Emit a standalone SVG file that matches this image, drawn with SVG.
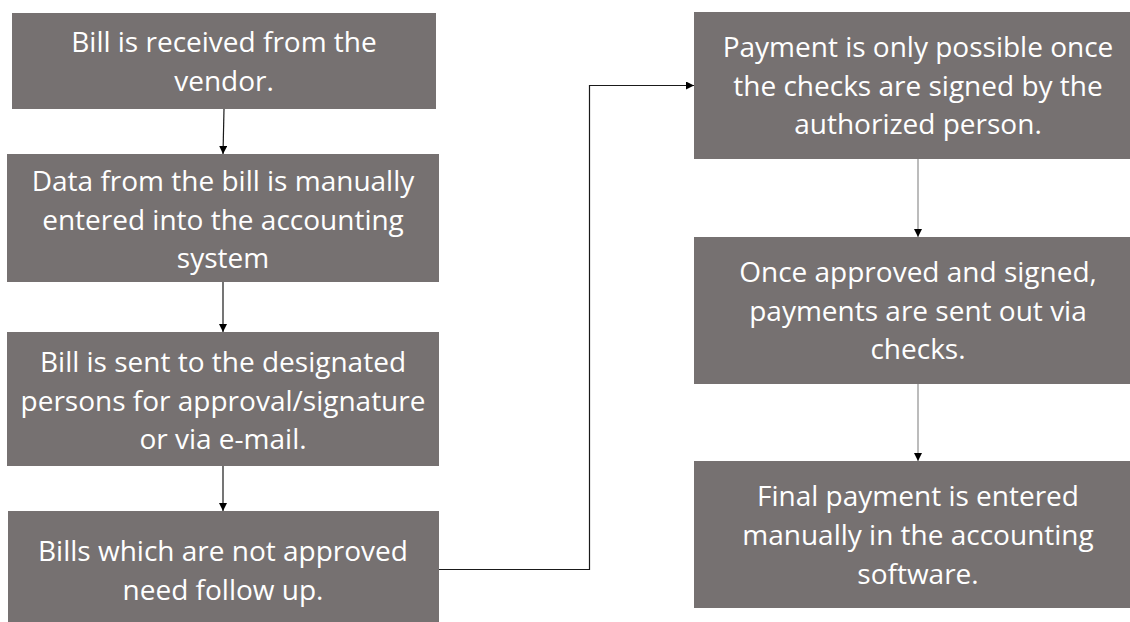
<svg xmlns="http://www.w3.org/2000/svg" width="1130" height="622" viewBox="0 0 1130 622">
<style>
.box{fill:#767171}
.t{font-family:"Open Sans","Noto Sans",sans-serif;font-size:28px;fill:#ffffff;text-anchor:middle}
.c{fill:none;stroke:#1a1a1a;stroke-width:1.2}
.g{fill:none;stroke:#a6a6a6;stroke-width:1.5}
</style>
<defs>
<marker id="ah" markerUnits="userSpaceOnUse" markerWidth="9" markerHeight="8" refX="8" refY="4" orient="auto">
<path d="M0,0 L8,4 L0,8 z" fill="#000"/>
</marker>
</defs>
<rect width="1130" height="622" fill="#ffffff"/>
<g id="connectors">
<path class="c" d="M224,109 L223,154" marker-end="url(#ah)"/>
<path class="c" d="M223,282 L223,332" marker-end="url(#ah)"/>
<path class="c" d="M223,466 L223,511" marker-end="url(#ah)"/>
<path class="c" d="M439,569.5 L589.5,569.5 L589.5,85.5 L694,85.5" marker-end="url(#ah)"/>
<path class="g" d="M918,159 L918,237" marker-end="url(#ah)"/>
<path class="g" d="M918,384 L918,461" marker-end="url(#ah)"/>
</g>
<g id="n1">
<rect class="box" x="12" y="13" width="424" height="96"/>
<text class="t" x="224" y="52">Bill is received from the</text>
<text class="t" x="224" y="90.5">vendor.</text>
</g>
<g id="n2">
<rect class="box" x="7" y="154" width="432" height="128"/>
<text class="t" x="223" y="191">Data from the bill is manually</text>
<text class="t" x="223" y="229.5">entered into the accounting</text>
<text class="t" x="223" y="268">system</text>
</g>
<g id="n3">
<rect class="box" x="7" y="332" width="432" height="134"/>
<text class="t" x="223" y="372">Bill is sent to the designated</text>
<text class="t" x="223" y="410.5">persons for approval/signature</text>
<text class="t" x="223" y="449">or via e-mail.</text>
</g>
<g id="n4">
<rect class="box" x="8" y="511" width="431" height="111"/>
<text class="t" x="223" y="561">Bills which are not approved</text>
<text class="t" x="223" y="600">need follow up.</text>
</g>
<g id="n5">
<rect class="box" x="694" y="12" width="448" height="147"/>
<text class="t" x="918" y="57">Payment is only possible once</text>
<text class="t" x="918" y="95.5">the checks are signed by the</text>
<text class="t" x="918" y="134">authorized person.</text>
</g>
<g id="n6">
<rect class="box" x="694" y="237" width="448" height="147"/>
<text class="t" x="918" y="282">Once approved and signed,</text>
<text class="t" x="918" y="320.5">payments are sent out via</text>
<text class="t" x="918" y="359">checks.</text>
</g>
<g id="n7">
<rect class="box" x="694" y="461" width="448" height="147"/>
<text class="t" x="918" y="506">Final payment is entered</text>
<text class="t" x="918" y="544.5">manually in the accounting</text>
<text class="t" x="918" y="584">software.</text>
</g>
</svg>
